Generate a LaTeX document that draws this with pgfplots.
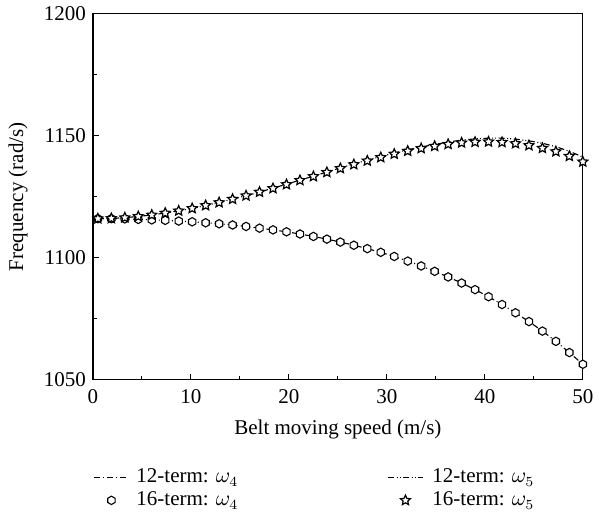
\documentclass[border=0pt]{standalone}
\usepackage{fontspec}
\setmainfont{Liberation Serif}
\usepackage{pgfplots}
\usepackage{pgfplotstable}
\pgfplotsset{compat=1.18}
\usetikzlibrary{plotmarks,calc}

\pgfdeclareplotmark{hexagon}{%
  \pgfpathmoveto{\pgfqpointpolar{90}{\pgfplotmarksize}}%
  \pgfpathlineto{\pgfqpointpolar{150}{\pgfplotmarksize}}%
  \pgfpathlineto{\pgfqpointpolar{210}{\pgfplotmarksize}}%
  \pgfpathlineto{\pgfqpointpolar{270}{\pgfplotmarksize}}%
  \pgfpathlineto{\pgfqpointpolar{330}{\pgfplotmarksize}}%
  \pgfpathlineto{\pgfqpointpolar{30}{\pgfplotmarksize}}%
  \pgfpathclose
  \pgfusepathqfillstroke}
\pgfdeclareplotmark{ostar}{%
  \pgfpathmoveto{\pgfqpointpolar{90}{\pgfplotmarksize}}%
  \pgfpathlineto{\pgfqpointpolar{126}{0.47\pgfplotmarksize}}%
  \pgfpathlineto{\pgfqpointpolar{162}{\pgfplotmarksize}}%
  \pgfpathlineto{\pgfqpointpolar{198}{0.47\pgfplotmarksize}}%
  \pgfpathlineto{\pgfqpointpolar{234}{\pgfplotmarksize}}%
  \pgfpathlineto{\pgfqpointpolar{270}{0.47\pgfplotmarksize}}%
  \pgfpathlineto{\pgfqpointpolar{306}{\pgfplotmarksize}}%
  \pgfpathlineto{\pgfqpointpolar{342}{0.47\pgfplotmarksize}}%
  \pgfpathlineto{\pgfqpointpolar{18}{\pgfplotmarksize}}%
  \pgfpathlineto{\pgfqpointpolar{54}{0.47\pgfplotmarksize}}%
  \pgfpathclose
  \pgfusepathqfillstroke}

\pgfplotstableread{
x      l4      l5      m4      m5
0.5    1116.0  1116.0  1116.0  1116.0
1.875  1116.0  1116.1  1116.0  1116.1
3.25   1115.9  1116.4  1115.9  1116.4
4.625  1115.7  1116.9  1115.7  1116.9
6.0    1115.5  1117.5  1115.5  1117.5
7.375  1115.3  1118.3  1115.3  1118.3
8.75   1115.0  1119.2  1115.0  1119.2
10.125 1114.7  1120.2  1114.7  1120.2
11.5   1114.3  1121.4  1114.3  1121.4
12.875 1113.9  1122.6  1113.9  1122.6
14.25  1113.4  1124.0  1113.4  1124.0
15.625 1112.8  1125.4  1112.8  1125.4
17.0   1112.1  1126.9  1112.1  1126.9
18.375 1111.4  1128.5  1111.4  1128.4
19.75  1110.6  1130.1  1110.6  1130.0
21.125 1109.7  1131.8  1109.7  1131.7
22.5   1108.7  1133.4  1108.7  1133.3
23.875 1107.6  1135.1  1107.6  1135.0
25.25  1106.4  1136.8  1106.4  1136.6
26.625 1105.1  1138.4  1105.1  1138.2
28.0   1103.7  1140.0  1103.7  1139.7
29.375 1102.2  1141.5  1102.2  1141.1
30.75  1100.5  1142.9  1100.5  1142.5
32.125 1098.6  1144.2  1098.6  1143.7
33.5   1096.6  1145.4  1096.6  1144.8
34.875 1094.4  1146.4  1094.4  1145.7
36.25  1092.1  1147.4  1092.1  1146.5
37.625 1089.6  1148.2  1089.6  1147.1
39.0   1086.9  1148.7  1086.9  1147.4
40.375 1084.0  1149.0  1084.0  1147.5
41.75  1080.8  1149.0  1080.8  1147.3
43.125 1077.4  1148.6  1077.4  1146.8
44.5   1073.8  1147.9  1073.8  1146.0
45.875 1069.9  1146.9  1069.9  1144.9
47.25  1065.7  1145.5  1065.7  1143.5
48.625 1061.1  1143.6  1061.1  1141.6
50.0   1056.3  1141.3  1056.3  1139.3
}\datatable

\begin{document}
\begin{tikzpicture}[font=\fontsize{10.5}{12.6}\selectfont]
\begin{axis}[
  scale only axis, width=245pt, height=183pt,
  xmin=0, xmax=50, ymin=1050, ymax=1200,
  xtick={0,10,...,50}, ytick={1050,1100,1150,1200},
  minor xtick={5,15,...,45}, minor ytick={1075,1125,1175},
  tick align=inside, xtick pos=lower, ytick pos=left,
  major tick length=3pt, minor tick length=1.8pt,
  axis line style={line width=0.6pt},
  every tick/.style={black, line width=0.5pt},
  /pgf/number format/assume math mode=true,
  /pgf/number format/set thousands separator={},
  x tick label style={yshift=-1.5pt},
  xlabel={Belt moving speed (m/s)},
  ylabel={Frequency (rad/s)},
  x label style={at={(axis description cs:0.5,0)}, yshift=-25pt, anchor=center},
  y label style={at={(axis description cs:-0.153,0.5)}, anchor=center},
  legend columns=2,
  legend cell align=left,
  legend style={at={(axis description cs:0,0)}, anchor=north west, yshift=-43pt,
    draw=none, fill=none, inner sep=0pt, row sep=0pt,
    nodes={inner sep=1.5pt}},
  legend image code/.code={\draw[mark repeat=2,mark phase=2,#1] plot coordinates {(0pt,0pt) (8.75pt,0pt) (17.5pt,0pt)};},
]
\coordinate (bl) at (rel axis cs:0,0);
\coordinate (tr) at (rel axis cs:1,1);
\addplot[black, line width=0.55pt, dash pattern=on 3pt off 1.5pt on 0.5pt off 1.5pt] table[x=x,y=l4] {\datatable};
\addlegendentry{\hspace{2pt}\makebox[124pt][l]{12-term: $\omega_4$}}
\addplot[black, line width=0.55pt, dash pattern=on 3pt off 1.3pt on 0.5pt off 1pt on 0.5pt off 1.3pt] table[x=x,y=l5] {\datatable};
\addlegendentry{\hspace{3pt}12-term: $\omega_5$}
\addplot[black, only marks, mark=hexagon, mark size=2.1pt, mark options={fill=white, line width=0.55pt}] table[x=x,y=m4] {\datatable};
\addlegendentry{\hspace{2pt}\makebox[124pt][l]{16-term: $\omega_4$}}
\addplot[black, only marks, mark=ostar, mark size=2.6pt, mark options={fill=white, line width=0.6pt}] table[x=x,y=m5] {\datatable};
\addlegendentry{\hspace{3pt}16-term: $\omega_5$}
\end{axis}
\path ($(bl)+(-46.5pt,-70pt)$) rectangle ($(tr)+(8.5pt,6pt)$);
\end{tikzpicture}
\end{document}
